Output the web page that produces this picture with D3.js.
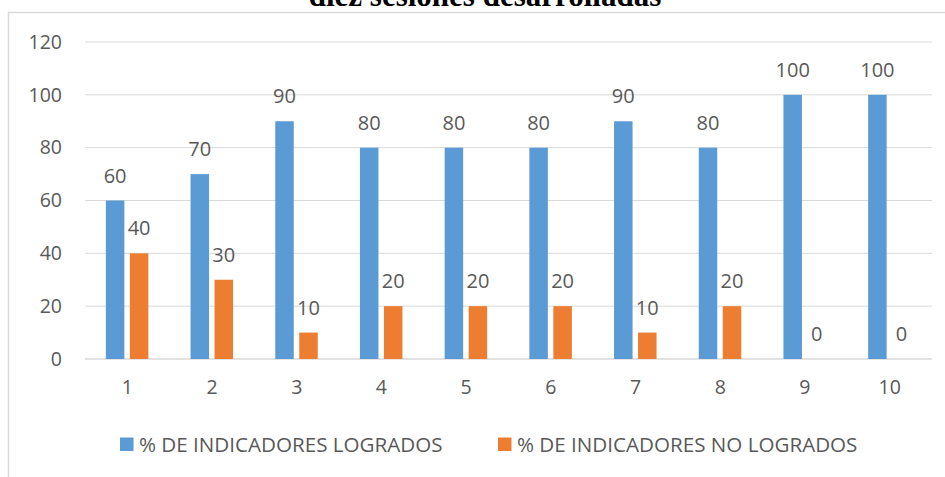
<!DOCTYPE html>
<html>
<head>
<meta charset="utf-8">
<script src="https://cdn.jsdelivr.net/npm/d3@7"></script>
<style>
  html, body { margin: 0; padding: 0; background: #fff; }
  svg { display: block; }
  text { font-family: "Open Sans", sans-serif; fill: #595959; }
</style>
</head>
<body>
<script>
const sessions = ['1', '2', '3', '4', '5', '6', '7', '8', '9', '10'];
const logrados = [60, 70, 90, 80, 80, 80, 90, 80, 100, 100];
const noLogrados = [40, 30, 10, 20, 20, 20, 10, 20, 0, 0];
const yTicks = [0, 20, 40, 60, 80, 100, 120];
const seriesNames = ['% DE INDICADORES LOGRADOS', '% DE INDICADORES NO LOGRADOS'];
const colors = ['#5B9BD5', '#ED7D31'];

const width = 945;
const height = 477;
const margin = { left: 85, right: 13, top: 42, bottom: 118 };

const svg = d3.select('body')
  .append('svg')
  .attr('width', width)
  .attr('height', height);

// chart frame (runs off the right and bottom of the picture)
svg.append('rect')
  .attr('x', 8.5).attr('y', 12.5)
  .attr('width', 1200).attr('height', 1200)
  .attr('fill', 'none')
  .attr('stroke', '#d9d9d9')
  .attr('stroke-width', 1.5);

// title, cut off at the top
svg.append('text')
  .attr('x', 485).attr('y', 6)
  .attr('text-anchor', 'middle')
  .style('font-family', '"Liberation Serif", serif')
  .style('font-weight', 'bold')
  .style('font-size', '31px')
  .style('fill', '#000')
  .text('diez sesiones desarrolladas');

const x = d3.scaleBand()
  .domain(sessions)
  .range([margin.left, width - margin.right]);

const y = d3.scaleLinear()
  .domain([0, 120])
  .range([height - margin.bottom, margin.top]);

// gridlines
svg.append('g')
  .selectAll('line')
  .data(yTicks)
  .enter()
  .append('line')
  .attr('x1', margin.left)
  .attr('x2', width - margin.right)
  .attr('y1', d => y(d))
  .attr('y2', d => y(d))
  .attr('stroke', '#d9d9d9')
  .attr('stroke-width', d => d === 0 ? 1.5 : 1);

const yAxis = svg.append('g')
  .attr('transform', `translate(${margin.left - 23}, 0)`)
  .call(d3.axisLeft(y).tickValues(yTicks).tickSize(0).tickPadding(0));
yAxis.select('.domain').remove();
yAxis.selectAll('text')
  .style('font-size', '19.5px')
  .style('font-family', '"Open Sans", sans-serif')
  .attr('fill', '#595959');

const xAxis = svg.append('g')
  .attr('transform', `translate(0, ${y(0)})`)
  .call(d3.axisBottom(x).tickSize(0).tickPadding(21));
xAxis.select('.domain').remove();
xAxis.selectAll('text')
  .style('font-size', '19.5px')
  .style('font-family', '"Open Sans", sans-serif')
  .attr('fill', '#595959');

const barW = 18.5;
const offsets = [-21.5, 2.5];
const series = [logrados, noLogrados];

series.forEach((vals, s) => {
  const g = svg.append('g').attr('class', 'series-' + s);
  const cx = d => x(d) + x.bandwidth() / 2 + offsets[s];

  g.selectAll('rect')
    .data(sessions)
    .enter()
    .append('rect')
    .attr('x', d => cx(d))
    .attr('width', barW)
    .attr('y', (d, i) => y(vals[i]))
    .attr('height', (d, i) => y(0) - y(vals[i]))
    .attr('fill', colors[s]);

  g.selectAll('text')
    .data(sessions)
    .enter()
    .append('text')
    .attr('x', d => cx(d) + barW / 2)
    .attr('y', (d, i) => y(vals[i]) - 18)
    .attr('text-anchor', 'middle')
    .style('font-size', '20px')
    .text((d, i) => vals[i]);
});

// legend
const legendX = [120, 498];
const legend = svg.append('g');
seriesNames.forEach((name, i) => {
  legend.append('rect')
    .attr('x', legendX[i]).attr('y', 437.5)
    .attr('width', 13.5).attr('height', 13.5)
    .attr('fill', colors[i]);
  legend.append('text')
    .attr('x', legendX[i] + 19).attr('y', 451.5)
    .style('font-size', '20.6px')
    .text(name);
});
</script>
</body>
</html>
